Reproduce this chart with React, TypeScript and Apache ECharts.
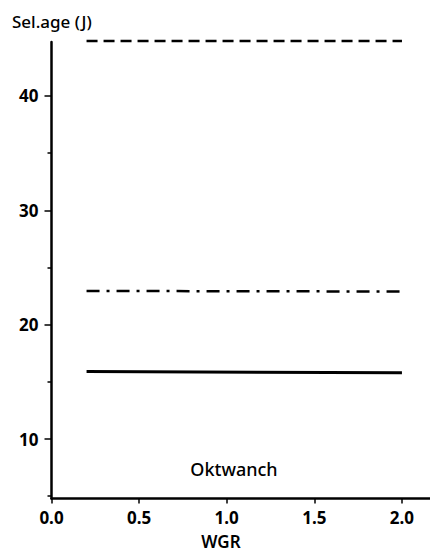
import React, { useEffect, useRef } from "react";
import * as echarts from "echarts";

const wgr = [0.2, 2.0];
const dashedValues = [44.8, 44.8];
const dashDotValues = [22.95, 22.9];
const solidValues = [15.9, 15.8];

const xTickValues = [0, 0.5, 1.0, 1.5, 2.0];
const yMajorTicks = [10, 20, 30, 40];
const yMinorTicks = [5, 15, 25, 35];

const yTitle = "Sel.age (J)";
const xTitle = "WGR";
const panelLabel = "Oktwanch";

const FONT = "Noto Sans";

export default function App() {
  const ref = useRef<HTMLDivElement>(null);
  useEffect(() => {
    if (!ref.current) return;
    const chart = echarts.init(ref.current, null, { renderer: "svg" });
    const toPairs = (vals: number[]) => wgr.map((x, i) => [x, vals[i]]);
    chart.setOption({
      animation: false,
      backgroundColor: "#fff",
      grid: { left: 51.5, right: 0, top: 42, bottom: 55.5, containLabel: false },
      xAxis: {
        type: "value",
        min: 0,
        max: 2.16,
        axisLine: { show: true, lineStyle: { color: "#000", width: 2.5 } },
        axisTick: { show: true, customValues: xTickValues, length: 5, lineStyle: { color: "#000", width: 1.5 } },
        axisLabel: {
          show: true,
          customValues: xTickValues,
          formatter: (v: number) => v.toFixed(1),
          color: "#000",
          fontFamily: FONT,
          fontWeight: "bold",
          fontSize: 17,
          margin: 10,
        },
        splitLine: { show: false },
      },
      yAxis: [
        {
          type: "value",
          min: 4.8,
          max: 44.72,
          axisLine: { show: true, lineStyle: { color: "#000", width: 2.5 } },
          axisTick: { show: true, customValues: yMajorTicks, length: 7, lineStyle: { color: "#000", width: 1.5 } },
          axisLabel: {
            show: true,
            customValues: yMajorTicks,
            color: "#000",
            fontFamily: FONT,
            fontWeight: "bold",
            fontSize: 17,
            margin: 13,
          },
          splitLine: { show: false },
        },
        {
          type: "value",
          min: 4.8,
          max: 44.72,
          position: "left",
          axisLine: { show: false },
          axisTick: { show: true, customValues: yMinorTicks, length: 4, lineStyle: { color: "#000", width: 1.5 } },
          axisLabel: { show: false },
          splitLine: { show: false },
        },
      ],
      series: [
        {
          type: "line",
          data: toPairs(dashedValues),
          showSymbol: false,
          clip: false,
          lineStyle: { color: "#000", width: 2.5, type: [11, 6] },
        },
        {
          type: "line",
          data: toPairs(dashDotValues),
          showSymbol: false,
          clip: false,
          lineStyle: { color: "#000", width: 2.5, type: [13, 7, 3, 7] },
        },
        {
          type: "line",
          data: toPairs(solidValues),
          showSymbol: false,
          clip: false,
          lineStyle: { color: "#000", width: 3 },
        },
      ],
      graphic: [
        {
          type: "text",
          left: 12,
          top: 13,
          style: { text: yTitle, fill: "#000", font: `500 17px "${FONT}"` },
        },
        {
          type: "text",
          x: 221,
          y: 541,
          style: { text: xTitle, fill: "#000", font: `600 17px "${FONT}"`, align: "center", verticalAlign: "middle" },
        },
        {
          type: "text",
          x: 234,
          y: 469,
          style: { text: panelLabel, fill: "#000", font: `500 18px "${FONT}"`, align: "center", verticalAlign: "middle" },
        },
      ],
    });
    return () => chart.dispose();
  }, []);
  return <div ref={ref} style={{ position: "fixed", left: 0, top: 0, width: 430, height: 554 }} />;
}
